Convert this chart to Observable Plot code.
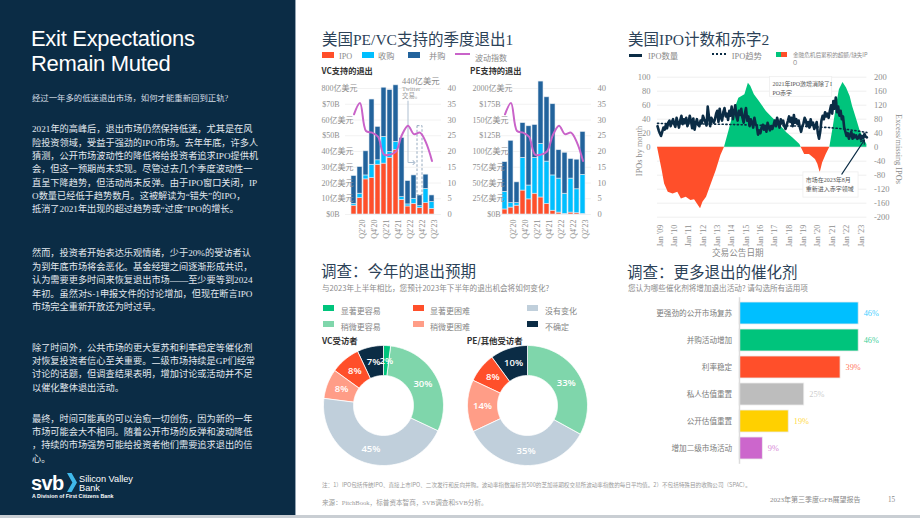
<!DOCTYPE html>
<html lang="zh">
<head>
<meta charset="utf-8">
<script src="https://cdn.jsdelivr.net/npm/d3@7"></script>
<script src="https://cdn.jsdelivr.net/npm/@observablehq/plot@0.6"></script>
<style>
  html, body { margin: 0; padding: 0; background: #fff; }
  #page { position: relative; width: 920px; height: 518px; overflow: hidden; background: #fff;
          font-family: "Noto Sans CJK SC", "Noto Sans", sans-serif; }
  .a { position: absolute; white-space: nowrap; }
  #side { position: absolute; left: 0; top: 0; width: 295px; height: 518px; background: #0b2c45;
          border-right: 1px solid #93a3b2; }
  #foot { position: absolute; left: 0; top: 515px; width: 920px; height: 3px; background: #c9ced3; }
  svg { display: block; }
</style>
</head>
<body>
<div id="page">
  <div id="side"></div>
  <div id="foot"></div>
</div>
<script>
// ---------- quarterly exit values ($B), Q1'20 – Q2'23 ----------
const quarters = ["Q1'20","Q2'20","Q3'20","Q4'20","Q1'21","Q2'21","Q3'21","Q4'21","Q1'22","Q2'22","Q3'22","Q4'22","Q1'23","Q2'23"];
const vcIPO = [5.6, 10.4, 22.3, 23.1, 31.6, 32.3, 35.9, 40.8, 9.3, 5.1, 6.8, 4.0, 7.2, 3.6];
const vcAcq = [1.1, 2.8, 2.5, 8.5, 2.8, 17.0, 3.8, 5.3, 1.7, 1.3, 3.2, 1.3, 9.1, 4.3];
const vcMA  = [17.7, 16.9, 15.3, 41.4, 21.2, 31.2, 39.3, 35.9, 37.6, 14.8, 14.8, 6.8, 9.0, 4.2];
const peIPO = [8, 11, 14, 38, 24, 33, 27, 17, 6, 3, 1, 3, 2, 1];
const peAcq = [28, 7, 4, 52, 22, 57, 85, 67, 56, 54, 32, 54, 38, 62];
const peMA  = [47, 99, 33, 55, 94, 52, 99, 102, 113, 45, 65, 31, 47, 68];
const vix   = [31.8, 35.4, 26.5, 26, 24.7, 19, 19, 20, 25.3, 28.2, 25.5, 26, 22.8, 17];
const twitterDeal = 44;

const stackKeys = ["IPO", "收购", "并购"];
const stackColors = ["#ff4f2a", "#00bfff", "#22639c"];

const vcTickValues = [0, 10, 20, 30, 40, 50, 60, 70, 80];
const vcTickLabels = ["$0B","10亿美元","20亿美元","30亿美元","40亿美元","$50B","60亿美元","$70B","800亿美元"];
const peTickValues = [0, 25, 50, 75, 100, 125, 150, 175, 200];
const peTickLabels = ["$0B","25亿美元","50亿美元","75亿美元","100亿美元","$125B","150亿美元","$175B","2000亿美元"];
const vixTicks = [0, 5, 10, 15, 20, 25, 30, 35, 40];

// ---------- monthly US IPO count, Jan 2009 – Aug 2023 ----------
const ipoCounts = [
  30,24,20,16,22,28,25,32,27,35,38,30,
  36,40,33,29,42,35,28,38,45,33,40,36,
  42,30,35,45,38,27,41,25,34,40,32,30,
  38,34,45,40,36,31,58,44,30,42,38,35,
  40,48,52,36,55,42,38,50,56,44,48,39,
  52,45,58,40,50,60,44,38,52,46,55,42,
  35,48,56,38,44,30,40,35,28,42,33,30,
  18,24,20,28,32,25,30,22,35,28,24,30,
  26,32,38,30,42,35,28,40,34,38,30,26,
  32,38,44,36,42,30,46,35,40,33,38,28,
  22,30,34,42,38,30,36,28,40,32,35,26,
  30,36,20,12,22,38,45,40,50,44,48,42,
  52,60,48,66,55,71,50,58,45,52,40,44,
  28,22,16,20,12,18,22,12,18,14,17,12,
  14,18,11,16,13,19,15,14
];
const trendDates  = ["2009-01","2011-01","2013-01","2015-01","2017-01","2019-01","2021-01","2022-01","2023-01","2023-08"];
const trendValues = [34, 33.5, 33, 32, 31, 30, 28, 26, 23, 21];
// cumulative excess / missing IPOs since the financial crisis
const deficitDates = ["2009-01","2009-05","2009-07","2009-10","2010-02","2010-06","2010-09","2011-01","2011-05","2011-08",
  "2012-01","2012-03","2012-06","2012-10","2013-02","2013-06","2013-09","2014-01","2014-05","2014-09",
  "2015-02","2015-05","2015-07","2015-10","2016-02","2016-08","2017-01","2017-07","2018-01","2018-06",
  "2018-12","2019-01","2019-04","2019-08","2020-01","2020-03","2020-05","2020-07","2020-10","2021-01",
  "2021-04","2021-07","2021-09","2021-12","2022-03","2022-06","2022-08","2022-11","2023-02","2023-05","2023-08"];
const deficitValues = [0,-67,-105,-129,-134,-129,-148,-143,-152,-150,
  -176,-157,-143,-105,-67,-24,0,50,102,140,
  150,183,174,150,131,102,84,65,41,27,
  8,0,-21,-21,-35,-49,-73,-45,-21,0,
  60,126,164,185,169,145,117,84,50,27,8];
const ipoLeftTicks = [0, 20, 40, 60, 80, 100];
const ipoRightTicks = [-200, -160, -120, -80, -40, 0, 40, 80, 120, 160, 200];

// ---------- survey responses (%) ----------
const outlookKeys = ["显著更容易","稍微更容易","没有变化","稍微更困难","显著更困难","不确定"];
const outlookColors = ["#00c47c","#7fd6ab","#c0cfdb","#ff9d87","#ff4f2a","#0b2c45"];
const vcOutlook = [2, 30, 45, 8, 8, 7];
const peOutlook = [0, 33, 35, 14, 8, 10];

const catalysts = ["更强劲的公开市场复苏","并购活动增加","利率稳定","私人估值重置","公开估值重置","增加二级市场活动"];
const catalystShare = [46, 46, 39, 25, 19, 9];
const catalystColors = ["#00bfff","#00c47c","#ff4f2a","#bdbdbd","#ffd000","#cc66cc"];

// ---------- helpers ----------
const P = document.getElementById("page");
const SERIF = '"Liberation Serif","Noto Sans CJK SC",serif';
const SANS = '"Noto Sans CJK SC","Noto Sans",sans-serif';
const LATIN = '"Liberation Sans",Arial,sans-serif';

function label(text, x, cy, size, color, css = {}) {
  const d = document.createElement("div");
  d.className = "a";
  d.textContent = text;
  d.style.left = x + "px";
  d.style.top = (cy - size * 0.6) + "px";
  d.style.fontSize = size + "px";
  d.style.lineHeight = (size * 1.2) + "px";
  d.style.color = color;
  Object.assign(d.style, css);
  P.appendChild(d);
  return d;
}
function box(x, y, w, h, bg, css = {}) {
  const d = document.createElement("div");
  d.className = "a";
  Object.assign(d.style, {left: x + "px", top: y + "px", width: w + "px", height: h + "px", background: bg}, css);
  P.appendChild(d);
  return d;
}
function put(node, left, top) {
  const w = document.createElement("div");
  w.className = "a";
  w.style.left = left + "px";
  w.style.top = top + "px";
  w.appendChild(node);
  P.appendChild(w);
}
const plotStyle = {background: "transparent", overflow: "visible", fontFamily: SERIF, fontSize: "8px", color: "#8e8e8e"};

// ---------- left column ----------
label("Exit Expectations", 31, 39.5, 22, "#ffffff", {fontFamily: LATIN, letterSpacing: "-0.3px"});
label("Remain Muted", 31, 64.5, 22, "#ffffff", {fontFamily: LATIN, letterSpacing: "-0.3px"});
label("经过一年多的低迷退出市场，如何才能重新回到正轨?", 32, 99.3, 8.4, "#d5dde4", {fontFamily: SERIF});

const paragraphs = [
  {y: 129.7, lines: [
    "2021年的高峰后，退出市场仍然保持低迷，尤其是在风",
    "险投资领域，受益于强劲的IPO市场。去年年底，许多人",
    "猜测，公开市场波动性的降低将给投资者追求IPO提供机",
    "会，但这一预期尚未实现。尽管过去几个季度波动性一",
    "直呈下降趋势，但活动尚未反弹。由于IPO窗口关闭，IP",
    "O数量已经低于趋势数月。这被解读为“错失”的IPO，",
    "抵消了2021年出现的超过趋势或“过度”IPO的增长。"]},
  {y: 254, lines: [
    "然而，投资者开始表达乐观情绪，少于20%的受访者认",
    "为到年底市场将会恶化。基金经理之间逐渐形成共识，",
    "认为需要更多时间来恢复退出市场——至少要等到2024",
    "年初。虽然对S-1申报文件的讨论增加，但现在断言IPO",
    "市场完全重新开放还为时过早。"]},
  {y: 348.3, lines: [
    "除了时间外，公共市场的更大复苏和利率稳定等催化剂",
    "对恢复投资者信心至关重要。二级市场持续是GP们经常",
    "讨论的话题，但调查结果表明，增加讨论或活动并不足",
    "以催化整体退出活动。"]},
  {y: 419.3, lines: [
    "最终，时间可能真的可以治愈一切创伤，因为新的一年",
    "市场可能会大不相同。随着公开市场的反弹和波动降低",
    "，持续的市场强势可能给投资者他们需要追求退出的信",
    "心。"]}
];
for (const p of paragraphs) {
  p.lines.forEach((line, i) => label(line, 32, p.y + i * 13.35, 9.2, "#e2e8ee", {fontFamily: SERIF}));
}
// logo
label("svb", 31, 483, 20, "#ffffff", {fontFamily: LATIN, fontWeight: "bold", letterSpacing: "-0.6px"});
const chev = document.createElementNS("http://www.w3.org/2000/svg", "svg");
chev.setAttribute("width", "12"); chev.setAttribute("height", "20");
chev.innerHTML = '<path d="M0,0 L4.6,0 L10,9.5 L4.6,19 L0,19 L5.4,9.5 Z" fill="#3fb8ea"/>';
put(chev, 66.5, 473);
label("Silicon Valley", 79, 0, 9.2, "#ffffff", {fontFamily: LATIN, lineHeight: "9px", top: "474.5px"});
label("Bank", 79, 0, 9.2, "#ffffff", {fontFamily: LATIN, lineHeight: "9px", top: "483.5px"});
label("A Division of First Citizens Bank", 32, 0, 5.3, "#ffffff", {fontFamily: LATIN, fontWeight: "bold", lineHeight: "5.5px", top: "494.3px"});

// ---------- chart headers ----------
const titleColor = "#2c4258";
label("美国PE/VC支持的季度退出1", 322, 40.5, 15.5, titleColor, {fontFamily: SERIF});
label("美国IPO计数和赤字2", 628, 40.5, 15.5, titleColor, {fontFamily: SERIF});

// legend of exit charts
stackKeys.forEach((k, i) => {
  box([322, 362, 408][i], 52, 11.5, 5.5, stackColors[i]);
  label(k, [339, 378, 429][i], 57.3, 8.2, "#8a8a8a", {fontFamily: SERIF});
});
box(455, 52.6, 15, 2, "#c963c9");
label("波动指数", 475, 57.3, 8, "#8a8a8a");
label("VC支持的退出", 321.5, 71.3, 8.2, "#333333", {fontWeight: "bold"});
label("PE支持的退出", 470, 71.3, 8.2, "#333333", {fontWeight: "bold"});

// ---------- quarterly exit charts ----------
function exitChart(o) {
  const rows = quarters.flatMap((q, i) => [
    {q, type: "IPO", v: o.ipo[i]},
    {q, type: "收购", v: o.acq[i]},
    {q, type: "并购", v: o.ma[i]}
  ]);
  const k = o.yMax / 40;   // right-hand volatility axis shares the frame
  const ticks = o.tickValues.map((t, i) => ({t, s: o.tickLabels[i]}));
  const marks = [
    Plot.ruleY(o.tickValues, {stroke: "#efefef", strokeWidth: 0.8}),
    Plot.barY(rows, {x: "q", y: "v", fill: "type", stroke: "#dfe8f1", strokeWidth: 0.6}),
    ...(o.extra || []),
    Plot.line(quarters.map((q, i) => ({q, v: vix[i] * k})), {x: "q", y: "v", stroke: "#c963c9", strokeWidth: 2, curve: "catmull-rom"}),
    Plot.text(ticks.filter(d => !d.s.startsWith("$")), {y: "t", text: "s", frameAnchor: "left", textAnchor: "start", dx: o.cjkDx}),
    Plot.text(ticks.filter(d => d.s.startsWith("$")), {y: "t", text: "s", frameAnchor: "left", textAnchor: "end", dx: o.usdDx}),
    Plot.text(vixTicks, {y: d => d * k, text: d => String(d), frameAnchor: "right", textAnchor: "start", dx: 6, fontSize: 8.5}),
    Plot.text(quarters.filter((q, i) => i % 2 === 1), {x: d => d, text: d => d, frameAnchor: "bottom", rotate: -90, textAnchor: "end", dx: 5, dy: 5})
  ];
  return Plot.plot({
    width: 150, height: 175,
    marginLeft: o.ml, marginRight: 150 - o.ml - o.span, marginTop: 18, marginBottom: 31,
    style: plotStyle,
    x: {type: "band", domain: quarters, padding: 0.15, axis: null},
    y: {domain: [0, o.yMax], axis: null},
    color: {domain: stackKeys, range: stackColors},
    marks
  });
}

const vcTotals = quarters.map((q, i) => vcIPO[i] + vcAcq[i] + vcMA[i]);
const twitterQ = "Q4'22";
const twitterBase = vcTotals[quarters.indexOf(twitterQ)];
const vcExtra = [
  Plot.barY([{q: twitterQ, y1: twitterBase, y2: twitterBase + twitterDeal}],
    {x: "q", y1: "y1", y2: "y2", fill: "none", stroke: "#8aa0b8", strokeWidth: 0.9, strokeDasharray: "2.5,1.8"}),
  Plot.line([{q: "Q2'22", v: 72}, {q: "Q2'22", v: 33}, {q: "Q3'22", v: 33}],
    {x: "q", y: "v", stroke: "#aebfd1", strokeWidth: 1, markerEnd: "arrow"}),
  Plot.text([{q: "Q2'22", v: 84.8, s: "440亿美元"}], {x: "q", y: "v", text: "s", textAnchor: "start", dx: -6, fontSize: 8.4, fill: "#8a8a8a"}),
  Plot.text([{q: "Q2'22", v: 79.7, s: "Twitter"}, {q: "Q2'22", v: 75.2, s: "交易。"}],
    {x: "q", y: "v", text: "s", textAnchor: "start", dx: -6, fontSize: 6.4, fill: "#9a9a9a"})
];

put(exitChart({ipo: vcIPO, acq: vcAcq, ma: vcMA, yMax: 80, tickValues: vcTickValues, tickLabels: vcTickLabels,
  ml: 35, span: 96, cjkDx: -24, usdDx: -6, extra: vcExtra}), 310, 70);
put(exitChart({ipo: peIPO, acq: peAcq, ma: peMA, yMax: 200, tickValues: peTickValues, tickLabels: peTickLabels,
  ml: 37, span: 94, cjkDx: -25, usdDx: 3}), 460, 70);

// ---------- IPO count and deficit ----------
box(629, 53.8, 13, 3, "#0b2c45");
label("IPO数量", 648, 57.3, 8.4, "#8a8a8a", {fontFamily: SERIF});
box(712, 52.5, 14, 0, "transparent", {borderTop: "2px dotted #0b2c45"});
label("IPO趋势", 731.7, 57.3, 8.4, "#8a8a8a", {fontFamily: SERIF});
box(775.5, 51.8, 5.5, 5.5, "#00c47c");
box(781, 51.8, 5.5, 5.5, "#ff4f2a");
label("金融危机后累积的超额/缺失IP", 793, 55, 5.6, "#8a8a8a", {lineHeight: "6px", top: "52px"});
label("O", 793, 63, 5.6, "#8a8a8a", {lineHeight: "6px", top: "60px"});

const parseMonth = d3.utcParse("%Y-%m");
const ipoMonths = d3.utcMonth.range(parseMonth("2009-01"), parseMonth("2023-09"));
const ipoRows = ipoMonths.map((d, i) => ({d, v: ipoCounts[i]}));
const trendRows = trendDates.map((s, i) => ({d: parseMonth(s), v: trendValues[i]}));
const defRows = deficitDates.map((s, i) => ({d: parseMonth(s), v: deficitValues[i]}));
const yearTicks = d3.utcYear.range(parseMonth("2009-01"), parseMonth("2023-02"));

const ipoPlot = Plot.plot({
  width: 300, height: 200,
  marginLeft: 37, marginRight: 53.6, marginTop: 14.7, marginBottom: 45.3,
  style: plotStyle,
  x: {type: "utc", domain: [parseMonth("2009-01"), parseMonth("2023-08")], axis: null},
  y: {domain: [-200, 200], axis: null},
  marks: [
    Plot.ruleY(ipoRightTicks, {stroke: "#ececec", strokeWidth: 0.8}),
    Plot.areaY(defRows, {x: "d", y1: 0, y2: d => Math.max(0, d.v), fill: "#00c47c"}),
    Plot.areaY(defRows, {x: "d", y1: 0, y2: d => Math.min(0, d.v), fill: "#ff4f2a"}),
    Plot.line(trendRows, {x: "d", y: d => d.v * 2, stroke: "#0b2c45", strokeWidth: 1.6, strokeDasharray: "1.2,2.6"}),
    Plot.line(ipoRows, {x: "d", y: d => d.v * 2, stroke: "#0b2c45", strokeWidth: 2.6, strokeLinejoin: "round"}),
    // annotation boxes
    Plot.rect([{x1: parseMonth("2016-11"), x2: parseMonth("2021-03"), y1: 144, y2: 201}],
      {x1: "x1", x2: "x2", y1: "y1", y2: "y2", fill: "white", fillOpacity: 0.85, stroke: "#eeeeee", strokeWidth: 0.8}),
    Plot.text([{d: parseMonth("2017-01"), v: 181, s: "2021年IPO激增消除了I"}, {d: parseMonth("2017-01"), v: 156, s: "PO赤字"}],
      {x: "d", y: "v", text: "s", textAnchor: "start", fontSize: 6, fill: "#555"}),
    Plot.rect([{x1: parseMonth("2019-03"), x2: parseMonth("2023-01"), y1: -144, y2: -72}],
      {x1: "x1", x2: "x2", y1: "y1", y2: "y2", fill: "white", stroke: "#eeeeee", strokeWidth: 0.8}),
    Plot.text([{d: parseMonth("2019-05"), v: -95, s: "市场在2023年8月"}, {d: parseMonth("2019-05"), v: -121, s: "重新进入赤字领域"}],
      {x: "d", y: "v", text: "s", textAnchor: "start", fontSize: 6, fill: "#555"}),
    Plot.arrow([{x1: parseMonth("2021-11"), y1: -77, x2: parseMonth("2023-06"), y2: 21}],
      {x1: "x1", y1: "y1", x2: "x2", y2: "y2", stroke: "#0b2c45", strokeWidth: 1.1, headLength: 6}),
    // axes
    Plot.text(ipoLeftTicks, {y: d => d * 2, text: d => String(d), frameAnchor: "left", textAnchor: "end", dx: -7, fontSize: 8.5}),
    Plot.text(ipoRightTicks, {y: d => d, text: d => String(d), frameAnchor: "right", textAnchor: "start", dx: 7, fontSize: 8.5}),
    Plot.text(yearTicks, {x: d => d, text: d3.utcFormat("%b '%y"), frameAnchor: "bottom", rotate: -90, textAnchor: "end", dx: 5, dy: 7.5, fontSize: 8})
  ]
});
put(ipoPlot, 620, 62);
label("IPOs by month", 640, 151, 8.3, "#8a8a8a", {fontFamily: SERIF, transform: "translate(-50%,-50%) rotate(-90deg)", top: "151px", lineHeight: "10px"});
label("Excess/missing IPOs", 898, 149, 8.3, "#8a8a8a", {fontFamily: SERIF, transform: "translate(-50%,-50%) rotate(90deg)", top: "149px", lineHeight: "10px"});
label("交易公告日期", 712, 253, 8.6, "#8a8a8a", {fontFamily: SERIF});

// ---------- survey: exit outlook ----------
label("调查：今年的退出预期", 321, 270.5, 15.5, titleColor);
label("与2023年上半年相比，您预计2023年下半年的退出机会将如何变化?", 322, 287.3, 7.6, "#8a8a8a");
const legendPos = [
  {x: 322.7, t: 340.7, y: 305}, {x: 322.7, t: 340.7, y: 321},
  {x: 527.3, t: 545, y: 305}, {x: 413.3, t: 430, y: 321},
  {x: 413.3, t: 430, y: 305}, {x: 527.3, t: 545, y: 321}
];
outlookKeys.forEach((k, i) => {
  const p = legendPos[i];
  box(p.x, p.y, 11, 5.7, outlookColors[i]);
  label(k, p.t, p.y + 5.5, 8, "#858585");
});
label("VC受访者", 322, 340, 8.4, "#333333", {fontWeight: "bold"});
label("PE/其他受访者", 466.7, 340, 8.4, "#333333", {fontWeight: "bold"});

function donut(values) {
  const R = 60, r = 30, rl = 45;
  const total = d3.sum(values);
  let acc = 0;
  const slices = [];
  values.forEach((v, i) => {
    const a0 = acc / total * 2 * Math.PI;
    acc += v;
    const a1 = acc / total * 2 * Math.PI;
    if (v > 0) slices.push({i, v, a0, a1, color: outlookColors[i]});
  });
  const pts = slices.flatMap(s => {
    const n = Math.max(2, Math.ceil((s.a1 - s.a0) / 0.02));
    const angles = d3.range(n + 1).map(j => s.a0 + (s.a1 - s.a0) * j / n);
    return [
      ...angles.map(a => ({s: s.i, color: s.color, x: R * Math.sin(a), y: -R * Math.cos(a)})),
      ...angles.slice().reverse().map(a => ({s: s.i, color: s.color, x: r * Math.sin(a), y: -r * Math.cos(a)}))
    ];
  });
  const mid = s => (s.a0 + s.a1) / 2;
  return Plot.plot({
    width: 130, height: 130, margin: 0,
    style: plotStyle,
    x: {domain: [-65, 65], axis: null},
    y: {domain: [-65, 65], range: [0, 130], axis: null},
    color: {type: "identity"},
    marks: [
      Plot.line(pts, {x: "x", y: "y", z: "s", fill: "color", stroke: "white", strokeWidth: 0.8, curve: "linear-closed"}),
      Plot.text(slices, {x: s => rl * Math.sin(mid(s)), y: s => -rl * Math.cos(mid(s)), text: s => s.v + "%",
        fill: "white", fontSize: 9.5, fontWeight: 600, fontFamily: '"Open Sans","Noto Sans",sans-serif'})
    ]
  });
}
put(donut(vcOutlook), 317.7, 340);
put(donut(peOutlook), 461.7, 340);

// ---------- survey: catalysts ----------
label("调查：更多退出的催化剂", 627, 271.5, 15.5, titleColor);
label("您认为哪些催化剂将增加退出活动? 请勾选所有适用项", 628, 287.3, 7.6, "#8a8a8a");
const catRows = catalysts.map((c, i) => ({c, v: catalystShare[i], color: catalystColors[i]}));
const catPlot = Plot.plot({
  width: 300, height: 180,
  marginLeft: 119, marginRight: 61.8, marginTop: 7.2, marginBottom: 6.2,
  style: plotStyle,
  x: {domain: [0, 46], axis: null},
  y: {type: "band", domain: catalysts, paddingInner: 0.2, paddingOuter: 0.1, axis: null},
  color: {type: "identity"},
  marks: [
    Plot.barX(catRows, {y: "c", x: "v", fill: "color", stroke: "#ececec", strokeWidth: 0.8}),
    Plot.ruleX([0], {stroke: "#dcdcdc", strokeWidth: 1.5}),
    Plot.text(catRows, {y: "c", text: "c", frameAnchor: "left", textAnchor: "end", dx: -7.3, fill: "#7a7a7a", fontSize: 7.6, fontFamily: SANS}),
    Plot.text(catRows, {y: "c", x: "v", text: d => d.v + "%", textAnchor: "start", dx: 5, fill: "color", fillOpacity: 0.8, fontSize: 8.3})
  ]
});
put(catPlot, 620, 290);

// ---------- footnotes ----------
label("注：1）IPO包括传统IPO、直接上市IPO、二次发行和反向并购。波动率指数是标普500的芝加哥期权交易所波动率指数的每日平均值。2）不包括特殊目的收购公司（SPAC）。", 322, 485.5, 5.6, "#9a9a9a");
label("来源：PitchBook，标普资本智商，SVB调查和SVB分析。", 322, 503, 6.6, "#9a9a9a", {fontFamily: SERIF});
label("2023年第三季度GFB展望报告", 770, 500.5, 7, "#8a8a8a", {fontFamily: SERIF});
label("15", 888, 500.5, 7.2, "#8a8a8a", {fontFamily: SERIF});
</script>
</body>
</html>
